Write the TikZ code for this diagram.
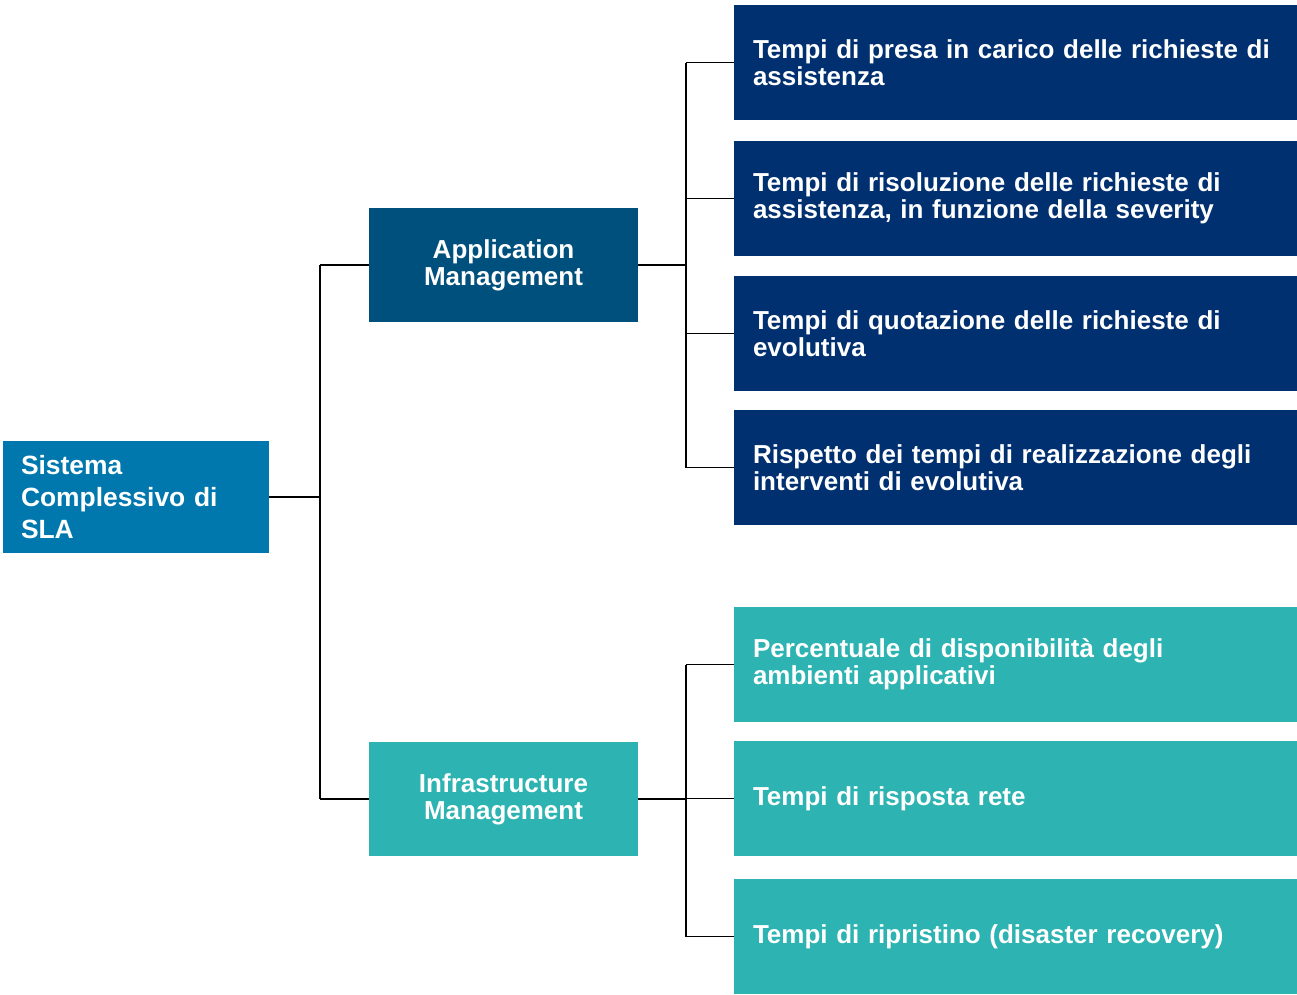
\documentclass[tikz,border=0pt]{standalone}
\usepackage{fontspec}
\setmainfont{Liberation Sans}
\definecolor{rootblue}{HTML}{0077AD}
\definecolor{appblue}{HTML}{00507D}
\definecolor{navy}{HTML}{003070}
\definecolor{teal}{HTML}{2DB3B1}
\begin{document}
\begin{tikzpicture}[x=1pt,y=-1pt,
  box/.style={inner sep=0pt, outer sep=0pt, text=white, font=\bfseries\fontsize{26}{27}\selectfont},
  rootbox/.style={box, fill=rootblue, minimum height=112pt, text width=230pt, inner xsep=18pt, align=left, font=\bfseries\fontsize{26.4}{32}\selectfont},
  midbox/.style={box, minimum width=269pt, minimum height=114pt, text width=269pt, align=center},
  leafbox/.style={box, minimum height=115pt, text width=530pt, inner xsep=19pt, align=left},
  link/.style={line width=1.8pt, black},
  trunk/.style={line width=2.4pt, black}]
\useasboundingbox (0,0) rectangle (1297,994);

% root and second level
\node[rootbox, anchor=north west] (root) at (3,441) {Sistema\\Complessivo di\\SLA};
\node[midbox, fill=appblue, anchor=north west] (am) at (369,208) {Application\\Management};
\node[midbox, fill=teal, anchor=north west] (im) at (369,742) {Infrastructure\\Management};

% application management leaves
\node[leafbox, fill=navy, anchor=north west] (a1) at (734,5) {Tempi di presa in carico delle richieste di\\assistenza};
\node[leafbox, fill=navy, anchor=north west] (a2) at (734,141) {Tempi di risoluzione delle richieste di\\assistenza, in funzione della severity};
\node[leafbox, fill=navy, anchor=north west] (a3) at (734,276) {Tempi di quotazione delle richieste di\\evolutiva};
\node[leafbox, fill=navy, anchor=north west] (a4) at (734,410) {Rispetto dei tempi di realizzazione degli\\interventi di evolutiva};

% infrastructure management leaves
\node[leafbox, fill=teal, anchor=north west] (i1) at (734,607) {Percentuale di disponibilità degli\\ambienti applicativi};
\node[leafbox, fill=teal, anchor=north west] (i2) at (734,741) {Tempi di risposta rete};
\node[leafbox, fill=teal, anchor=north west] (i3) at (734,879) {Tempi di ripristino (disaster recovery)};

% junction columns
\coordinate (j0) at (320,0);
\coordinate (j1) at (686,0);

% root to second level
\draw[trunk] (root.east) -- (root.east -| j0);
\draw[link] (am.west -| j0) -- (im.west -| j0);
\draw[link] (am.west -| j0) -- (am.west);
\draw[link] (im.west -| j0) -- (im.west);

% application management branch
\draw[trunk] (am.east) -- (am.east -| j1);
\draw[link] (a1.west -| j1) -- (a4.west -| j1);
\foreach \n in {a1,a2,a3,a4} \draw[link] (\n.west -| j1) -- (\n.west);

% infrastructure management branch
\draw[trunk] (im.east) -- (im.east -| j1);
\draw[link] (i1.west -| j1) -- (i3.west -| j1);
\foreach \n in {i1,i2,i3} \draw[link] (\n.west -| j1) -- (\n.west);
\end{tikzpicture}
\end{document}
